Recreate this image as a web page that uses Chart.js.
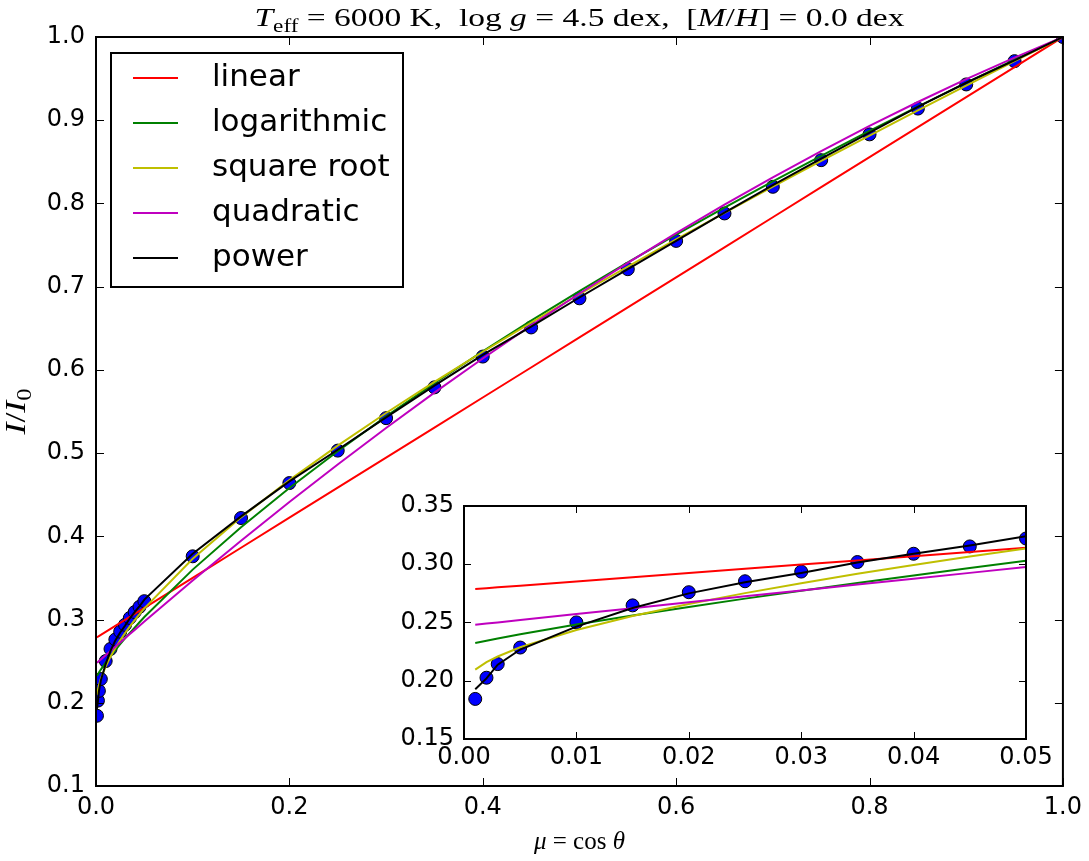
<!DOCTYPE html>
<html lang="en">
<head>
<meta charset="UTF-8" />
<title>Limb darkening laws</title>
<script src="https://cdn.jsdelivr.net/npm/chart.js"></script>
<style>
  html, body { margin: 0; padding: 0; background: #fff; }
  #wrap { position: relative; width: 1089px; height: 861px; }
  #main { position: absolute; left: 0; top: 0; }
  #inset { position: absolute; left: 380px; top: 470px; }
</style>
</head>
<body>
<div id="wrap">
  <canvas id="main" width="1089" height="861"></canvas>
  <canvas id="inset" width="709" height="310"></canvas>
</div>
<script>
// mu = cos(theta) sample points
const mu = [0.001, 0.002, 0.003, 0.005, 0.01, 0.015, 0.02, 0.025, 0.03, 0.035, 0.04, 0.045, 0.05,
  0.1, 0.15, 0.2, 0.25, 0.3, 0.35, 0.4, 0.45, 0.5, 0.55, 0.6, 0.65, 0.7, 0.75, 0.8, 0.85, 0.9, 0.95, 1.0];

// intensities I/I0
const observed = [0.1844, 0.2026, 0.2143, 0.2285, 0.2501, 0.2647, 0.2760, 0.2854, 0.2937, 0.3019, 0.3090, 0.3153, 0.3221,
  0.376, 0.422, 0.464, 0.503, 0.542, 0.579, 0.616, 0.651, 0.686, 0.721, 0.755, 0.788, 0.820, 0.852, 0.883, 0.914, 0.943, 0.971, 1.000];
const linear = [0.2787, 0.2794, 0.2802, 0.2816, 0.2852, 0.2888, 0.2924, 0.2961, 0.2997, 0.3033, 0.3069, 0.3105, 0.3141,
  0.3502, 0.3863, 0.4224, 0.4585, 0.4946, 0.5307, 0.5668, 0.6029, 0.6390, 0.6751, 0.7112, 0.7473, 0.7834, 0.8195, 0.8556, 0.8917, 0.9278, 0.9639, 1.000];
const logarithmic = [0.2324, 0.2344, 0.2363, 0.2399, 0.2483, 0.2560, 0.2634, 0.2705, 0.2773, 0.2839, 0.2904, 0.2967, 0.3030,
  0.3600, 0.4110, 0.4580, 0.5022, 0.5441, 0.5840, 0.6223, 0.6591, 0.6947, 0.7291, 0.7625, 0.7949, 0.8264, 0.8571, 0.8871, 0.9163, 0.9448, 0.9727, 1.000];
const squareRoot = [0.2096, 0.2159, 0.2208, 0.2287, 0.2436, 0.2555, 0.2659, 0.2752, 0.2837, 0.2918, 0.2994, 0.3066, 0.3135,
  0.3730, 0.4228, 0.4675, 0.5090, 0.5482, 0.5857, 0.6218, 0.6568, 0.6909, 0.7242, 0.7567, 0.7887, 0.8201, 0.8511, 0.8816, 0.9117, 0.9415, 0.9709, 1.000];
const quadratic = [0.2480, 0.2491, 0.2501, 0.2521, 0.2572, 0.2623, 0.2674, 0.2725, 0.2775, 0.2826, 0.2876, 0.2926, 0.2976,
  0.3469, 0.3948, 0.4413, 0.4864, 0.5302, 0.5727, 0.6137, 0.6534, 0.6918, 0.7287, 0.7643, 0.7986, 0.8314, 0.8629, 0.8931, 0.9219, 0.9493, 0.9753, 1.000];
const power = [0.1927, 0.2020, 0.2138, 0.2268, 0.2465, 0.2625, 0.2750, 0.2845, 0.2925, 0.3015, 0.3090, 0.3160, 0.3240,
  0.379, 0.424, 0.466, 0.504, 0.543, 0.581, 0.618, 0.652, 0.687, 0.721, 0.755, 0.789, 0.822, 0.854, 0.885, 0.916, 0.945, 0.972, 1.000];

const laws = [
  { label: 'linear', values: linear, color: '#ff0000' },
  { label: 'logarithmic', values: logarithmic, color: '#008000' },
  { label: 'square root', values: squareRoot, color: '#bfbf00' },
  { label: 'quadratic', values: quadratic, color: '#bf00bf' },
  { label: 'power', values: power, color: '#000000' },
];

const SANS = '"DejaVu Sans", sans-serif';
const SERIF = '"Liberation Serif", "DejaVu Serif", serif';

function pairs(vals) {
  return mu.map((m, i) => ({ x: m, y: vals[i] }));
}

function makeDatasets(radius) {
  const ds = laws.map((l, i) => ({
    label: l.label,
    data: pairs(l.values),
    showLine: true,
    borderColor: l.color,
    borderWidth: 2,
    pointRadius: 0,
    tension: 0,
    order: laws.length - i,
  }));
  ds.push({
    label: 'data',
    data: pairs(observed),
    showLine: false,
    pointRadius: radius,
    pointBackgroundColor: '#0000ff',
    pointBorderColor: '#000',
    pointBorderWidth: 1,
    order: 10,
  });
  return ds;
}

// inward ticks on all four sides + frame
const frameTicks = {
  id: 'frameTicks',
  beforeDraw(chart, args, opts) {
    if (!opts.fill) return;
    const { ctx, chartArea: a } = chart;
    ctx.save();
    ctx.fillStyle = '#fff';
    ctx.fillRect(a.left, a.top, a.right - a.left, a.bottom - a.top);
    ctx.restore();
  },
  afterDatasetsDraw(chart, args, opts) {
    const { ctx, chartArea: a, scales: { x, y } } = chart;
    const len = opts.len || 8;
    ctx.save();
    ctx.strokeStyle = '#000';
    ctx.lineWidth = 1;
    ctx.beginPath();
    x.ticks.forEach(t => {
      const px = Math.round(x.getPixelForValue(t.value)) + 0.5;
      ctx.moveTo(px, a.bottom); ctx.lineTo(px, a.bottom - len);
      ctx.moveTo(px, a.top); ctx.lineTo(px, a.top + len);
    });
    y.ticks.forEach(t => {
      const py = Math.round(y.getPixelForValue(t.value)) + 0.5;
      ctx.moveTo(a.left, py); ctx.lineTo(a.left + len, py);
      ctx.moveTo(a.right, py); ctx.lineTo(a.right - len, py);
    });
    ctx.stroke();
    ctx.lineWidth = 2;
    ctx.strokeRect(a.left, a.top, a.right - a.left, a.bottom - a.top);
    ctx.restore();
  }
};

// text with italic / subscript pieces, optionally stretched to a width
function richText(ctx, parts, x, y, size, targetW) {
  const fontOf = p => (p.i ? 'italic ' : '') + Math.round(p.sub ? size * 0.7 : size) + 'px ' + SERIF;
  let w = 0;
  parts.forEach(p => { ctx.font = fontOf(p); w += ctx.measureText(p.t).width; });
  ctx.save();
  ctx.translate(x, y);
  if (targetW) ctx.scale(targetW / w, 1);
  let cx = -w / 2;
  ctx.textAlign = 'left';
  ctx.textBaseline = 'alphabetic';
  parts.forEach(p => {
    ctx.font = fontOf(p);
    ctx.fillText(p.t, cx, p.sub ? size * 0.22 : 0);
    cx += ctx.measureText(p.t).width;
  });
  ctx.restore();
}

const labels = {
  id: 'labels',
  afterDraw(chart) {
    const { ctx, chartArea: a } = chart;
    const cx = (a.left + a.right) / 2;
    ctx.save();
    ctx.fillStyle = '#000';
    richText(ctx, [
      { t: 'T', i: true }, { t: 'eff', sub: true }, { t: ' = 6000 K,  log ' }, { t: 'g', i: true },
      { t: ' = 4.5 dex,  [' }, { t: 'M', i: true }, { t: '/' }, { t: 'H', i: true }, { t: '] = 0.0 dex' }
    ], cx, 26, 26, 650);
    richText(ctx, [{ t: 'μ', i: true }, { t: ' = cos ' }, { t: 'θ', i: true }], cx, 849, 25);
    ctx.save();
    ctx.translate(25, (a.top + a.bottom) / 2);
    ctx.rotate(-Math.PI / 2);
    richText(ctx, [{ t: 'I', i: true }, { t: '/' }, { t: 'I', i: true }, { t: '0', sub: true }], 0, 0, 29, 46);
    ctx.restore();

    // legend
    const bx = 111, by = 53, bw = 292, bh = 234;
    ctx.fillStyle = '#fff';
    ctx.fillRect(bx, by, bw, bh);
    ctx.lineWidth = 2;
    ctx.strokeStyle = '#000';
    ctx.strokeRect(bx, by, bw, bh);
    ctx.font = '31px ' + SANS;
    ctx.textBaseline = 'middle';
    ctx.textAlign = 'left';
    laws.forEach((l, i) => {
      const ry = 78 + i * 45;
      ctx.strokeStyle = l.color;
      ctx.lineWidth = 2;
      ctx.beginPath();
      ctx.moveTo(133, ry); ctx.lineTo(178, ry);
      ctx.stroke();
      ctx.fillStyle = '#000';
      ctx.fillText(l.label, 212, ry);
    });
    ctx.restore();
  }
};

function axes(xr, yr, xh, yw, pad, dec) {
  const tickFont = { family: SANS, size: 24 };
  return {
    x: {
      type: 'linear', min: xr[0], max: xr[1],
      ticks: { stepSize: xr[2], font: tickFont, color: '#000', padding: pad[0], maxRotation: 0,
        callback: v => v.toFixed(dec[0]) },
      grid: { display: false, drawTicks: false },
      border: { display: false },
      afterFit: s => { s.height = xh; }
    },
    y: {
      type: 'linear', min: yr[0], max: yr[1],
      ticks: { stepSize: yr[2], font: tickFont, color: '#000', padding: pad[1],
        callback: v => v.toFixed(dec[1]) },
      grid: { display: false, drawTicks: false },
      border: { display: false },
      afterFit: s => { s.width = yw; }
    }
  };
}

new Chart(document.getElementById('main'), {
  type: 'scatter',
  data: { datasets: makeDatasets(6.5) },
  options: {
    responsive: false,
    animation: false,
    events: [],
    layout: { padding: { left: 0, right: 26, top: 37, bottom: 0 } },
    scales: axes([0, 1, 0.2], [0.1, 1.0, 0.1], 75, 96, [7, 11], [1, 1]),
    plugins: { legend: { display: false }, tooltip: { enabled: false }, frameTicks: { len: 8 } }
  },
  plugins: [frameTicks, labels]
});

new Chart(document.getElementById('inset'), {
  type: 'scatter',
  data: { datasets: makeDatasets(6.5) },
  options: {
    responsive: false,
    animation: false,
    events: [],
    layout: { padding: { left: 0, right: 63, top: 36, bottom: 0 } },
    scales: axes([0, 0.05, 0.01], [0.15, 0.35, 0.05], 41, 84, [4, 10], [2, 2]),
    plugins: { legend: { display: false }, tooltip: { enabled: false }, frameTicks: { len: 7, fill: true } }
  },
  plugins: [frameTicks]
});
</script>
</body>
</html>
